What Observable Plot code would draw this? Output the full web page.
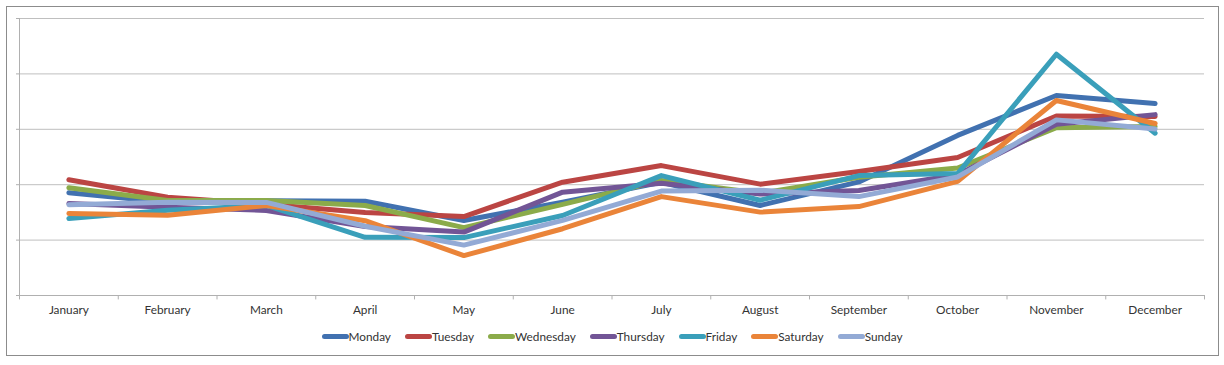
<!DOCTYPE html>
<html>
<head>
<meta charset="utf-8">
<script src="https://cdn.jsdelivr.net/npm/d3@7"></script>
<script src="https://cdn.jsdelivr.net/npm/@observablehq/plot@0.6"></script>
<style>
  html, body { margin: 0; padding: 0; background: #fff; }
  #wrap { position: relative; width: 1224px; height: 365px; overflow: hidden; font-family: Lato, "Open Sans", sans-serif; }
  #border { position: absolute; left: 6px; top: 6px; width: 1211px; height: 348px; border: 1px solid #8c8c8c; box-sizing: content-box; }
  #chart { position: absolute; left: 0; top: 0; }
  #legend { position: absolute; left: 0; top: 329px; width: 1224px; display: flex; justify-content: center; gap: 14px; font-size: 11.8px; color: #333; }
  .item { display: flex; align-items: center; }
  .sw { display: inline-block; width: 27px; height: 5px; border-radius: 3px; margin-right: 0px; }
</style>
</head>
<body>
<div id="wrap">
  <div id="border"></div>
  <div id="chart"></div>
  <div id="legend"></div>
</div>
<script>
const months = ["January","February","March","April","May","June","July","August","September","October","November","December"];
const days = ["Monday","Tuesday","Wednesday","Thursday","Friday","Saturday","Sunday"];
const colors = ["#4171b0","#bb4543","#8bab4a","#725596","#3a9fba","#ea8439","#93aad5"];
const yTicks = [0, 20, 40, 60, 80, 100];

const monday    = [37.1, 33.7, 34.2, 34.0, 27.1, 33.7, 40.9, 32.5, 41.0, 57.8, 72.2, 69.3];
const tuesday   = [41.8, 35.5, 32.9, 30.0, 28.5, 40.9, 46.9, 40.2, 44.8, 49.8, 64.8, 64.6];
const wednesday = [38.9, 34.3, 34.3, 32.5, 24.5, 32.9, 41.5, 36.9, 42.7, 46.0, 60.6, 61.0];
const thursday  = [33.2, 31.9, 30.7, 24.9, 22.9, 37.3, 40.5, 36.6, 37.9, 43.6, 61.8, 65.3];
const friday    = [27.8, 30.8, 32.5, 21.0, 20.9, 28.9, 43.3, 34.4, 43.3, 44.0, 87.1, 58.6];
const saturday  = [29.6, 29.0, 32.5, 27.0, 14.4, 24.1, 35.7, 30.1, 32.1, 41.2, 70.4, 62.1];
const sunday    = [32.8, 33.7, 33.6, 25.0, 18.2, 27.1, 37.7, 38.0, 35.7, 42.8, 63.4, 60.1];

const series = [monday, tuesday, wednesday, thursday, friday, saturday, sunday];
const data = [];
days.forEach((d, i) => months.forEach((m, j) => data.push({day: d, month: m, value: series[i][j]})));

const W = 1224, H = 320, ML = 19, MR = 20;
const bw = (W - ML - MR) / months.length;

const chart = Plot.plot({
  width: W,
  height: H,
  marginTop: 18,
  marginBottom: 25,
  marginLeft: ML,
  marginRight: MR,
  style: {fontFamily: "Lato, 'Open Sans', sans-serif", fontSize: "11.8px", color: "#333", background: "transparent"},
  x: {type: "band", domain: months, padding: 0, round: false, label: null, axis: null},
  y: {domain: [0, 100], label: null, axis: null},
  color: {domain: days, range: colors},
  marks: [
    Plot.gridY(yTicks, {stroke: "#bfbfbf", strokeOpacity: 1, strokeWidth: 1}),
    Plot.axisY(yTicks, {tickFormat: () => "", tickSize: 3, stroke: "#b0b0b0", strokeOpacity: 1}),
    Plot.ruleY([0], {stroke: "#b0b0b0", strokeWidth: 1}),
    Plot.frame({anchor: "left", stroke: "#b0b0b0", strokeOpacity: 1}),
    Plot.ruleX(months, {x: d => d, y1: 0, y2: -1.6, dx: -bw / 2, stroke: "#b0b0b0"}),
    Plot.ruleX([months[months.length - 1]], {x: d => d, y1: 0, y2: -1.6, dx: bw / 2, stroke: "#b0b0b0"}),
    Plot.axisX({tickSize: 0, tickPadding: 10, fill: "#333", fontSize: 11.8}),
    Plot.line(data, {x: "month", y: "value", z: "day", stroke: "day", strokeWidth: 5, strokeLinejoin: "round", strokeLinecap: "round"})
  ]
});
document.getElementById("chart").appendChild(chart);

const legend = document.getElementById("legend");
days.forEach((d, i) => {
  const it = document.createElement("div");
  it.className = "item";
  const sw = document.createElement("span");
  sw.className = "sw";
  sw.style.background = colors[i];
  const t = document.createElement("span");
  t.textContent = d;
  it.appendChild(sw);
  it.appendChild(t);
  legend.appendChild(it);
});
</script>
</body>
</html>
